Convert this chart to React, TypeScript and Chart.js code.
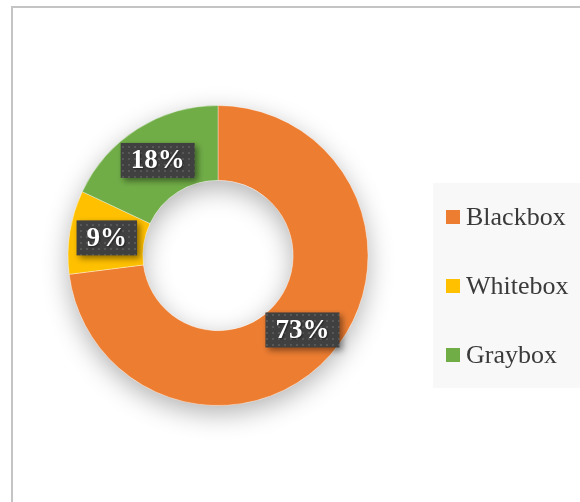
import React, { useEffect, useRef } from "react";
import { Chart, registerables } from "chart.js";

Chart.register(...registerables);

const categories = ["Blackbox", "Whitebox", "Graybox"];
const shares = [73, 9, 18];
const colors = ["#ED7D31", "#FFC000", "#70AD47"];

const SERIF = '"Liberation Serif", "Times New Roman", serif';

function makeDotPattern(ctx: CanvasRenderingContext2D) {
  const tile = document.createElement("canvas");
  tile.width = 6;
  tile.height = 6;
  const t = tile.getContext("2d")!;
  t.fillStyle = "#404040";
  t.fillRect(0, 0, 6, 6);
  t.fillStyle = "#575757";
  t.fillRect(2, 2, 2, 2);
  return ctx.createPattern(tile, "repeat");
}

// soft drop shadow under the whole ring
const ringShadow = {
  id: "ringShadow",
  beforeDatasetsDraw(chart: any) {
    const meta = chart.getDatasetMeta(0);
    const arc = meta.data[0];
    if (!arc) return;
    const { x, y, outerRadius, innerRadius } = arc.getProps(
      ["x", "y", "outerRadius", "innerRadius"],
      true
    );
    const ctx = chart.ctx;
    ctx.save();
    ctx.beginPath();
    ctx.arc(x, y, outerRadius, 0, Math.PI * 2);
    ctx.arc(x, y, innerRadius, 0, Math.PI * 2, true);
    ctx.closePath();
    ctx.shadowColor = "rgba(0,0,0,0.3)";
    ctx.shadowBlur = 26;
    ctx.shadowOffsetY = 8;
    ctx.fillStyle = "#ffffff";
    ctx.fill();
    ctx.restore();
  },
};

// dark tag labels with the percentage of each slice
const sliceTags = {
  id: "sliceTags",
  afterDatasetsDraw(chart: any) {
    const ctx: CanvasRenderingContext2D = chart.ctx;
    const meta = chart.getDatasetMeta(0);
    const values = chart.data.datasets[0].data as number[];
    const pattern = makeDotPattern(ctx);
    ctx.save();
    ctx.font = `bold 27px ${SERIF}`;
    meta.data.forEach((arc: any, i: number) => {
      const p = arc.getCenterPoint();
      const text = `${values[i]}%`;
      const w = ctx.measureText(text).width + 20;
      const h = 35;
      const bx = p.x - w / 2;
      const by = p.y - h / 2;
      ctx.save();
      ctx.shadowColor = "rgba(0,0,0,0.45)";
      ctx.shadowBlur = 6;
      ctx.shadowOffsetX = 3;
      ctx.shadowOffsetY = 3;
      ctx.fillStyle = pattern || "#404040";
      ctx.fillRect(bx, by, w, h);
      ctx.restore();
      ctx.save();
      ctx.fillStyle = "#ffffff";
      ctx.textAlign = "center";
      ctx.textBaseline = "middle";
      ctx.shadowColor = "rgba(0,0,0,0.5)";
      ctx.shadowBlur = 2;
      ctx.shadowOffsetX = 1;
      ctx.shadowOffsetY = 1;
      ctx.fillText(text, p.x, p.y + 1);
      ctx.restore();
    });
    ctx.restore();
  },
};

// legend panel on the right
const sideLegend = {
  id: "sideLegend",
  afterDraw(chart: any) {
    const ctx: CanvasRenderingContext2D = chart.ctx;
    const labels = chart.data.labels as string[];
    const bg = chart.data.datasets[0].backgroundColor as string[];
    ctx.save();
    ctx.fillStyle = "#f8f8f8";
    ctx.fillRect(433, 183, 160, 205);
    ctx.font = `26px ${SERIF}`;
    ctx.textBaseline = "alphabetic";
    ctx.textAlign = "left";
    labels.forEach((label, i) => {
      const base = 225 + i * 69;
      ctx.fillStyle = bg[i];
      ctx.fillRect(446, base - 15, 14, 14);
      ctx.fillStyle = "#3a3a3a";
      ctx.fillText(label, 466, base);
    });
    ctx.restore();
  },
};

export default function App() {
  const ref = useRef<HTMLCanvasElement | null>(null);

  useEffect(() => {
    if (!ref.current) return;
    const chart = new Chart(ref.current, {
      type: "doughnut",
      data: {
        labels: categories,
        datasets: [
          {
            data: shares,
            backgroundColor: colors,
            borderColor: "rgba(255,255,255,0.6)",
            borderWidth: 0.6,
            hoverOffset: 0,
          },
        ],
      },
      options: {
        responsive: false,
        animation: false,
        devicePixelRatio: 1,
        radius: 150,
        cutout: 75,
        layout: { padding: { left: 68, right: 212, top: 105, bottom: 96 } },
        plugins: {
          legend: { display: false },
          tooltip: { enabled: false },
        },
      },
      plugins: [ringShadow, sliceTags, sideLegend],
    });
    return () => chart.destroy();
  }, []);

  return (
    <div
      style={{
        position: "fixed",
        left: 0,
        top: 0,
        width: 580,
        height: 502,
        background: "#ffffff",
        overflow: "hidden",
      }}
    >
      <div
        style={{
          position: "absolute",
          left: 11,
          top: 6,
          width: 600,
          height: 600,
          borderTop: "2px solid #c4c4c4",
          borderLeft: "2px solid #c4c4c4",
        }}
      />
      <canvas
        ref={ref}
        width={580}
        height={502}
        style={{ position: "absolute", left: 0, top: 0 }}
      />
    </div>
  );
}
